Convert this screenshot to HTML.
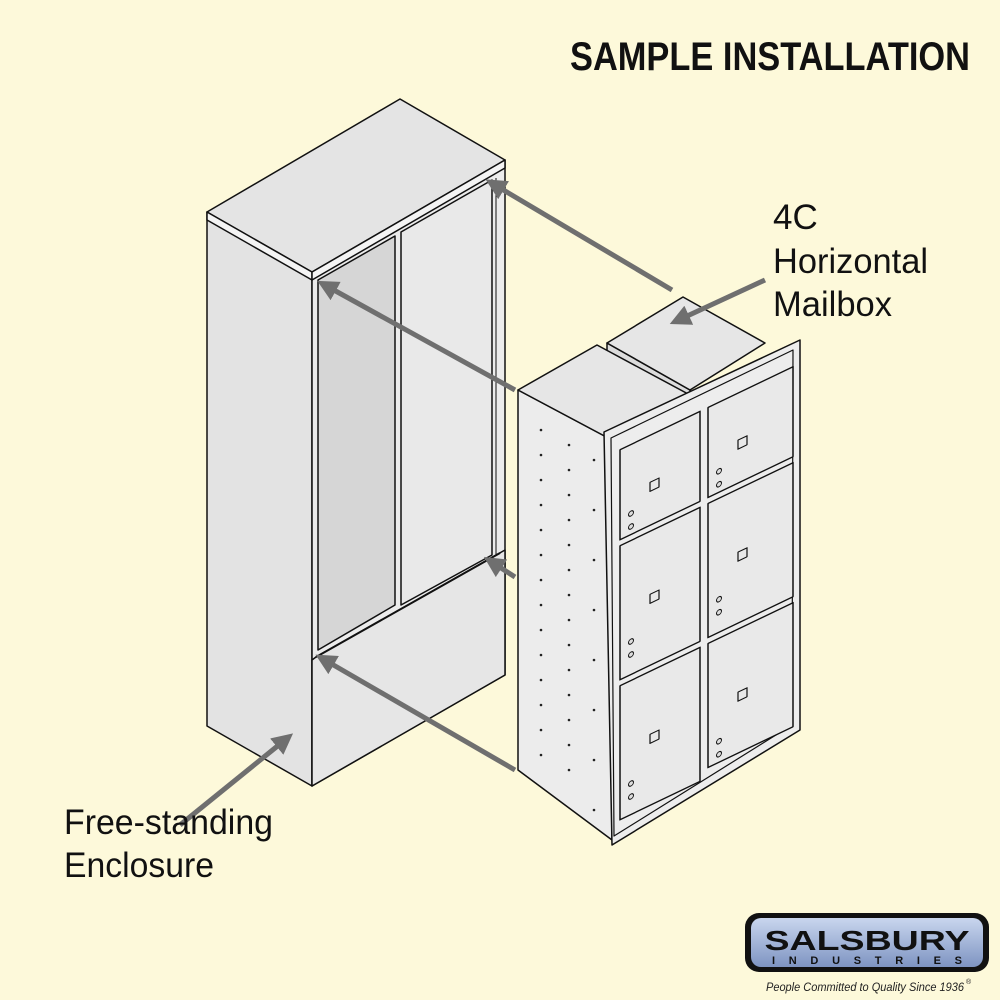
<!DOCTYPE html>
<html><head><meta charset="utf-8"><style>
html,body{margin:0;padding:0;background:#fdf9da;}
svg{display:block}
.t{font-family:"Liberation Sans",sans-serif;fill:#111}
</style></head><body>
<svg width="1000" height="1000" viewBox="0 0 1000 1000" xmlns="http://www.w3.org/2000/svg">
<defs>
<marker id="ah" viewBox="0 0 10 10" refX="2" refY="5" markerWidth="4.2" markerHeight="4.2" orient="auto">
<path d="M0,0 L10,5 L0,10 Z" fill="#6f6f6f"/></marker>
<linearGradient id="lg" x1="0" y1="0" x2="0" y2="1"><stop offset="0" stop-color="#c9d6ee"/><stop offset="1" stop-color="#7e94c2"/></linearGradient>
</defs>
<rect width="1000" height="1000" fill="#fdf9da"/>
<text class="t" x="970" y="70" text-anchor="end" font-size="40" font-weight="bold" textLength="400" lengthAdjust="spacingAndGlyphs">SAMPLE INSTALLATION</text>

<!-- Enclosure -->
<g stroke="#111" stroke-width="1.5" stroke-linejoin="round">
<polygon points="207,212 312,272 312,786 207,726" fill="#e3e3e3"/>
<polygon points="312,272 505,160 505,675 312,786" fill="#ececec"/>
<polygon points="318,280 395,236 395,605 318,650" fill="#d6d6d6"/>
<polygon points="401,232 492,180 492,555 401,605" fill="#e9e9e9"/>
<polygon points="316,657 505,550 505,675 312,786 312,660" fill="#e6e6e6"/>
<polygon points="207,212 400,99 505,160 312,272" fill="#e4e4e4"/>
<polygon points="207,212 312,272 312,280 207,220" fill="#f4f4f4"/>
<polygon points="312,272 505,160 505,168 312,280" fill="#f4f4f4"/>
<line x1="316" y1="657" x2="500" y2="553" stroke-width="2"/>
<line x1="496" y1="178" x2="496" y2="555" stroke-width="1"/>
<line x1="395" y1="236" x2="395" y2="605" stroke-width="1"/>
</g>

<!-- Mailbox -->
<g stroke="#111" stroke-width="1.5" stroke-linejoin="round">
<polygon points="607,343 607,360 690,407 690,390" fill="#dcdcdc"/>
<polygon points="607,343 683,297 765,343 690,390" fill="#e6e6e6"/>
<polygon points="518,390 612,440 612,840 518,770" fill="#ececec"/>
<polygon points="518,390 597,345 690,395 612,440" fill="#e6e6e6"/>
<polygon points="604,432 800,340 800,730 612,845" fill="#ededed"/>
<polygon points="611,438 793,350 792,725 614,836" fill="none" stroke-width="1.2"/>
<g transform="matrix(1,-0.48,0,1,607,435)">
<rect x="13" y="21" width="80" height="90" fill="#e9e9e9"/>
<rect x="101" y="21" width="85" height="90" fill="#e9e9e9"/>
<rect x="13" y="117" width="80" height="134" fill="#e9e9e9"/>
<rect x="101" y="117" width="85" height="134" fill="#e9e9e9"/>
<rect x="13" y="257" width="80" height="134" fill="#e9e9e9"/>
<rect x="101" y="257" width="85" height="124" fill="#e9e9e9"/>
<rect x="43" y="68" width="9" height="9" fill="none" stroke-width="1.2"/>
<rect x="131" y="68" width="9" height="9" fill="none" stroke-width="1.2"/>
<rect x="43" y="180" width="9" height="9" fill="none" stroke-width="1.2"/>
<rect x="131" y="180" width="9" height="9" fill="none" stroke-width="1.2"/>
<rect x="43" y="320" width="9" height="9" fill="none" stroke-width="1.2"/>
<rect x="131" y="320" width="9" height="9" fill="none" stroke-width="1.2"/>
<g stroke-width="1" fill="#ddd">
<circle cx="24" cy="90" r="2.5"/><circle cx="24" cy="103" r="2.5"/>
<circle cx="112" cy="90" r="2.5"/><circle cx="112" cy="103" r="2.5"/>
<circle cx="24" cy="218" r="2.5"/><circle cx="24" cy="231" r="2.5"/>
<circle cx="112" cy="218" r="2.5"/><circle cx="112" cy="231" r="2.5"/>
<circle cx="24" cy="360" r="2.5"/><circle cx="24" cy="373" r="2.5"/>
<circle cx="112" cy="360" r="2.5"/><circle cx="112" cy="373" r="2.5"/>
</g>
</g>
</g>
<g fill="#222">
<circle cx="541" cy="430" r="1.3"/><circle cx="569" cy="445" r="1.3"/><circle cx="541" cy="455" r="1.3"/><circle cx="569" cy="470" r="1.3"/>
<circle cx="541" cy="480" r="1.3"/><circle cx="569" cy="495" r="1.3"/><circle cx="541" cy="505" r="1.3"/><circle cx="569" cy="520" r="1.3"/>
<circle cx="541" cy="530" r="1.3"/><circle cx="569" cy="545" r="1.3"/><circle cx="541" cy="555" r="1.3"/><circle cx="569" cy="570" r="1.3"/>
<circle cx="541" cy="580" r="1.3"/><circle cx="569" cy="595" r="1.3"/><circle cx="541" cy="605" r="1.3"/><circle cx="569" cy="620" r="1.3"/>
<circle cx="541" cy="630" r="1.3"/><circle cx="569" cy="645" r="1.3"/><circle cx="541" cy="655" r="1.3"/><circle cx="569" cy="670" r="1.3"/>
<circle cx="541" cy="680" r="1.3"/><circle cx="569" cy="695" r="1.3"/><circle cx="541" cy="705" r="1.3"/><circle cx="569" cy="720" r="1.3"/>
<circle cx="541" cy="730" r="1.3"/><circle cx="569" cy="745" r="1.3"/><circle cx="541" cy="755" r="1.3"/><circle cx="569" cy="770" r="1.3"/>
<circle cx="594" cy="460" r="1.3"/><circle cx="594" cy="510" r="1.3"/><circle cx="594" cy="560" r="1.3"/><circle cx="594" cy="610" r="1.3"/><circle cx="594" cy="660" r="1.3"/><circle cx="594" cy="710" r="1.3"/><circle cx="594" cy="760" r="1.3"/><circle cx="594" cy="810" r="1.3"/>
</g>

<!-- Arrows -->
<g stroke="#6f6f6f" stroke-width="5" fill="none" marker-end="url(#ah)">
<line x1="672" y1="290" x2="500" y2="188"/>
<line x1="515" y1="390" x2="332" y2="289"/>
<line x1="515" y1="577" x2="498" y2="566"/>
<line x1="515" y1="770" x2="330" y2="663"/>
<line x1="765" y1="280" x2="685" y2="317"/>
<line x1="180" y1="825" x2="280" y2="744"/>
</g>

<text class="t" x="773" y="229" font-size="35">4C</text>
<text class="t" x="773" y="273" font-size="35" textLength="155" lengthAdjust="spacingAndGlyphs">Horizontal</text>
<text class="t" x="773" y="316" font-size="35" textLength="119" lengthAdjust="spacingAndGlyphs">Mailbox</text>
<text class="t" x="64" y="834" font-size="35" textLength="209" lengthAdjust="spacingAndGlyphs">Free-standing</text>
<text class="t" x="64" y="877" font-size="35" textLength="150" lengthAdjust="spacingAndGlyphs">Enclosure</text>

<!-- Logo -->
<rect x="745" y="913" width="244" height="59" rx="14" fill="#111"/>
<rect x="751" y="918" width="232" height="49" rx="10" fill="url(#lg)"/>
<text x="867" y="950" text-anchor="middle" font-family="Liberation Sans,sans-serif" font-weight="bold" font-size="28" fill="#111" textLength="205" lengthAdjust="spacingAndGlyphs">SALSBURY</text>
<text x="867" y="964" text-anchor="middle" font-family="Liberation Sans,sans-serif" font-weight="bold" font-size="11" fill="#111" textLength="190" lengthAdjust="spacing">INDUSTRIES</text>
<text x="766" y="991" font-family="Liberation Sans,sans-serif" font-style="italic" font-size="12" fill="#222" textLength="198" lengthAdjust="spacingAndGlyphs">People Committed to Quality Since 1936</text>
<text x="966" y="984" font-family="Liberation Sans,sans-serif" font-size="7" fill="#222">®</text>
</svg>
</body></html>
